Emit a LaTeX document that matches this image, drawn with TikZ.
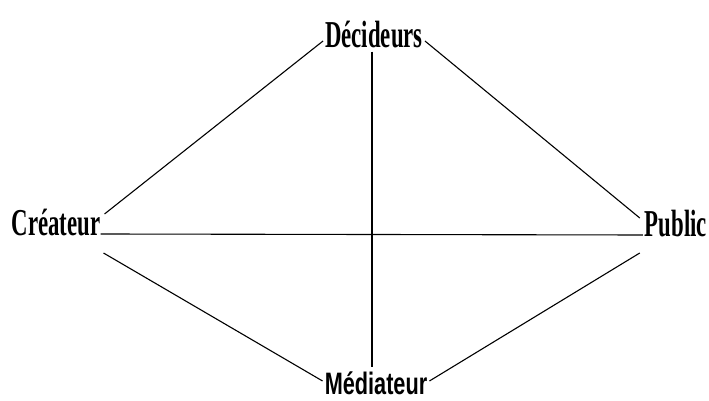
\documentclass[tikz,border=0pt]{standalone}
\usepackage{fontspec}
\newfontfamily\rolefont[FakeStretch=0.6]{Liberation Serif}
\newfontfamily\medfont[FakeStretch=0.7]{Liberation Sans}
\usepackage{tikz}
\usetikzlibrary{positioning}

\tikzset{
  role/.style={font=\rolefont\bfseries\fontsize{38}{40}\selectfont, inner sep=0pt, anchor=base},
  rolesans/.style={font=\medfont\bfseries\fontsize{31}{33}\selectfont, inner sep=0pt, anchor=base},
  link/.style={draw=black, line width=1.1pt}
}

\begin{document}
\begin{tikzpicture}[x=1pt,y=1pt]
  \useasboundingbox (0,0) rectangle (709,401);

  % the four actors
  \node[role] (createur) at (56,165) {Créateur};
  \node[role] (decideurs) at (374,353) {Décideurs};
  \node[role] (public) at (676,164) {Public};
  \node[rolesans] (mediateur) at (376,6) {Médiateur};

  % links between them
  \draw[link] ([shift={(4pt,22pt)}]createur.base east) -- ([shift={(-2pt,7pt)}]decideurs.base west);
  \draw[link] ([shift={(2pt,7pt)}]decideurs.base east) -- ([shift={(-5pt,19pt)}]public.base west);
  \draw[link] ([shift={(0pt,2pt)}]createur.base east) -- ([shift={(-2pt,2pt)}]public.base west);
  \draw[link] ([shift={(-2pt,-3pt)}]decideurs.south) -- ([shift={(-4pt,5pt)}]mediateur.north);
  \draw[link] ([shift={(3pt,-17pt)}]createur.base east) -- ([shift={(-2pt,14pt)}]mediateur.base west);
  \draw[link] ([shift={(2pt,14pt)}]mediateur.base east) -- ([shift={(-5pt,-16pt)}]public.base west);
\end{tikzpicture}
\end{document}
